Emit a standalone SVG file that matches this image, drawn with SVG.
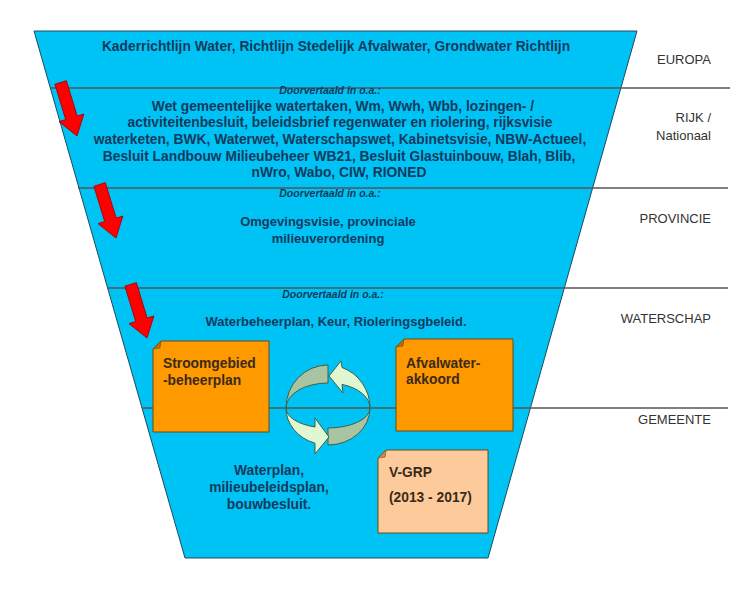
<svg xmlns="http://www.w3.org/2000/svg" width="745" height="600" viewBox="0 0 745 600">
<style>
.main{font-family:"Liberation Sans",Arial,sans-serif;font-weight:bold;font-size:13.8px;fill:#123a5e;text-anchor:middle}
.sub{font-family:"Liberation Sans",Arial,sans-serif;font-weight:bold;font-style:italic;font-size:10.5px;fill:#123a5e;text-anchor:middle}
.lvl{font-family:"Liberation Sans",Arial,sans-serif;font-size:13px;fill:#333;text-anchor:end}
.note{font-family:"Liberation Sans",Arial,sans-serif;font-weight:bold;font-size:13.8px;fill:#3a2a18}
.orange{fill:#ff9900;stroke:#6b4a10;stroke-width:1}
.peach{fill:#fdca9b;stroke:#6b4a10;stroke-width:1}
.fold{fill:#b86e00;stroke:#6b4a10;stroke-width:0.6}
.sep{stroke:#555;stroke-width:1.5;fill:none}
.red{fill:#ff0000;stroke:#a00000;stroke-width:0.8}
.back{fill:#a9c4a3;stroke:#3b6048;stroke-width:1}
.front{fill:#e0f7d2;stroke:#3b6048;stroke-width:1}
</style>
<defs>
<polygon id="redarrow" points="-6,-56 6,-56 6,-19 13,-19 0,0 -13,-19 -6,-19"/>
</defs>

<g id="funnel">
<polygon points="34,31 637,31 488,558 185,558" fill="#00c3f5" stroke="#1f4a5e" stroke-width="1"/>
</g>

<g id="connectors">
<line class="sep" x1="50" y1="88" x2="730" y2="88"/>
<line class="sep" x1="78" y1="188" x2="728" y2="188"/>
<line class="sep" x1="107" y1="288" x2="728" y2="288"/>
<line class="sep" x1="142" y1="408" x2="728" y2="408"/>
<use href="#redarrow" class="red" transform="translate(77,136) rotate(-17)"/>
<use href="#redarrow" class="red" transform="translate(116,238) rotate(-17)"/>
<use href="#redarrow" class="red" transform="translate(147,338) rotate(-17)"/>
</g>

<g id="europa">
<text class="main" x="336" y="51">Kaderrichtlijn Water, Richtlijn Stedelijk Afvalwater, Grondwater Richtlijn</text>
<text class="lvl" x="711" y="64">EUROPA</text>
</g>

<g id="rijk">
<text class="sub" x="330" y="94">Doorvertaald in o.a.:</text>
<text class="main" x="343" y="111">Wet gemeentelijke watertaken, Wm, Wwh, Wbb, lozingen- /</text>
<text class="main" x="340" y="127">activiteitenbesluit, beleidsbrief regenwater en riolering, rijksvisie</text>
<text class="main" x="340" y="144">waterketen, BWK, Waterwet, Waterschapswet, Kabinetsvisie, NBW-Actueel,</text>
<text class="main" x="339" y="161">Besluit Landbouw Milieubeheer WB21, Besluit Glastuinbouw, Blah, Blib,</text>
<text class="main" x="339" y="177">nWro, Wabo, CIW, RIONED</text>
<text class="lvl" x="711" y="122">RIJK /</text>
<text class="lvl" x="711" y="140">Nationaal</text>
</g>

<g id="provincie">
<text class="sub" x="330" y="197">Doorvertaald in o.a.:</text>
<text class="main" x="328" y="226" style="font-size:13px">Omgevingsvisie, provinciale</text>
<text class="main" x="328" y="243" style="font-size:13px">milieuverordening</text>
<text class="lvl" x="711" y="223">PROVINCIE</text>
</g>

<g id="waterschap">
<text class="sub" x="333" y="298">Doorvertaald in o.a.:</text>
<text class="main" x="336" y="326" style="font-size:13px">Waterbeheerplan, Keur, Rioleringsgbeleid.</text>
<text class="lvl" x="711" y="323">WATERSCHAP</text>
</g>

<g id="gemeente">
<text class="main" x="269" y="475">Waterplan,</text>
<text class="main" x="269" y="492">milieubeleidsplan,</text>
<text class="main" x="269" y="509">bouwbesluit.</text>
<text class="lvl" x="711" y="424">GEMEENTE</text>
</g>

<g id="stroomgebied">
<polygon class="orange" points="161,341 269,341 269,432 153,432 153,349"/>
<polygon class="fold" points="153,349 161,341 160,348"/>
<text class="note" x="163" y="368">Stroomgebied</text>
<text class="note" x="163" y="385">-beheerplan</text>
</g>

<g id="afvalwater">
<polygon class="orange" points="404,339 513,339 513,431 396,431 396,347"/>
<polygon class="fold" points="396,347 404,339 403,346"/>
<text class="note" x="406" y="368">Afvalwater-</text>
<text class="note" x="406" y="384">akkoord</text>
</g>

<g id="vgrp">
<polygon class="peach" points="386,450 488,450 488,533 378,533 378,458"/>
<polygon class="fold" points="378,458 386,450 385,457" style="fill:#d08a50"/>
<text class="note" x="389" y="477">V-GRP</text>
<text class="note" x="389" y="502">(2013 - 2017)</text>
</g>

<g id="cycle">
<path class="back" d="M286,408 A42,43 0 0,1 328,365 L328,383 A42,25 0 0,0 286,408 Z"/>
<path class="front" d="M370,408 A42,43 0 0,0 342,367.5 L341,361 L329,376 L343,393 L342,384.4 A42,25 0 0,1 370,408 Z"/>
<path class="back" d="M328,428 A42,20 0 0,0 370,408 A42,37 0 0,1 328,445 Z"/>
<path class="front" d="M286,408 A42,20 0 0,0 315,427 L315,418 L329,437 L315,454 L315,443.2 A42,37 0 0,1 286,408 Z"/>
</g>
</svg>
